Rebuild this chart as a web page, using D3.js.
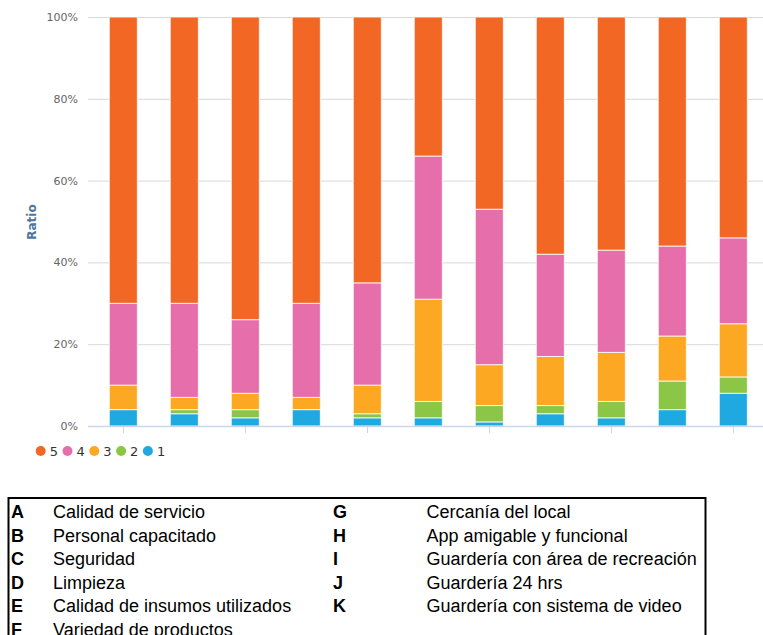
<!DOCTYPE html>
<html><head><meta charset="utf-8">
<script src="https://cdn.jsdelivr.net/npm/d3@7"></script>
<style>body{margin:0;background:#fff;} svg{display:block;}</style>
</head><body>
<svg id="chart" width="763" height="635"></svg>
<script>
const categories = ["A","B","C","D","E","F","G","H","I","J","K"];
const s1 = [4,3,2,4,2,2,1,3,2,4,8];
const s2 = [0,1,2,0,1,4,4,2,4,7,4];
const s3 = [6,3,4,3,7,25,10,12,12,11,13];
const s4 = [20,23,18,23,25,35,38,25,25,22,21];
const s5 = [70,70,74,70,65,34,47,58,57,56,54];
const seriesNames = ["1","2","3","4","5"];
const seriesColors = ["#1fa9e1","#8bc647","#fca823","#e66eab","#f26724"];
const yTicks = [0,20,40,60,80,100];
const legendOrder = ["5","4","3","2","1"];
const tableLeft = [["A","Calidad de servicio"],["B","Personal capacitado"],["C","Seguridad"],["D","Limpieza"],["E","Calidad de insumos utilizados"],["F","Variedad de productos"]];
const tableRight = [["G","Cercanía del local"],["H","App amigable y funcional"],["I","Guardería con área de recreación"],["J","Guardería 24 hrs"],["K","Guardería con sistema de video"]];

const svg = d3.select("#chart");
const x = d3.scaleBand().domain(categories).range([92.8, 763.8]).paddingInner(0.54).paddingOuter(0.27);
const y = d3.scaleLinear().domain([0,100]).range([426, 17]);

// gridlines
svg.append("g").selectAll("line").data(yTicks.filter(d=>d>0)).join("line")
  .attr("x1",88).attr("x2",763).attr("y1",d=>y(d)+0.5).attr("y2",d=>y(d)+0.5)
  .attr("stroke","#d8d8d8").attr("stroke-width",1);

// y labels
svg.append("g").selectAll("text").data(yTicks).join("text")
  .attr("x",78).attr("y",d=>y(d)+4).attr("text-anchor","end")
  .attr("font-family","DejaVu Sans, sans-serif").attr("font-size",11).attr("fill","#666")
  .text(d=>d+"%");

svg.append("text").attr("transform","translate(36,222) rotate(-90)")
  .attr("text-anchor","middle").attr("font-family","DejaVu Sans, sans-serif")
  .attr("font-size",12).attr("font-weight","bold").attr("fill","#4d759e").text("Ratio");

// stacked data
const rows = categories.map((c,i)=>({cat:c,"1":s1[i],"2":s2[i],"3":s3[i],"4":s4[i],"5":s5[i]}));
const stack = d3.stack().keys(seriesNames)(rows);
const color = d3.scaleOrdinal().domain(seriesNames).range(seriesColors);

svg.append("g").selectAll("g").data(stack).join("g")
  .attr("fill",d=>color(d.key))
  .selectAll("rect").data(d=>d.filter(p=>p[1]-p[0]>0)).join("rect")
  .attr("x",d=>x(d.data.cat)).attr("width",x.bandwidth())
  .attr("y",d=>y(d[1])).attr("height",d=>y(d[0])-y(d[1]))
  .attr("stroke","#fff").attr("stroke-opacity",0.8).attr("stroke-width",1);

// x axis baseline + ticks
svg.append("line").attr("x1",88).attr("x2",763).attr("y1",426.5).attr("y2",426.5)
  .attr("stroke","#ccd6eb").attr("stroke-width",1.5);
svg.append("g").selectAll("line").data(categories.filter((d,i)=>i%2===0)).join("line")
  .attr("x1",d=>Math.round(x(d)+x.bandwidth()/2)+0.5).attr("x2",d=>Math.round(x(d)+x.bandwidth()/2)+0.5)
  .attr("y1",427).attr("y2",433).attr("stroke","#ccd6eb").attr("stroke-width",1);

// legend
const lg = svg.append("g").selectAll("g").data(legendOrder).join("g")
  .attr("transform",(d,i)=>`translate(${40.7+i*26.8},451)`);
lg.append("circle").attr("r",5).attr("fill",d=>color(d));
lg.append("text").attr("x",9).attr("y",5).attr("font-family","DejaVu Sans, sans-serif")
  .attr("font-size",13).attr("fill","#333").text(d=>d);

// table box
svg.append("rect").attr("x",8.5).attr("y",498).attr("width",697).attr("height",160)
  .attr("fill","none").attr("stroke","#000").attr("stroke-width",2);
const tf = "Liberation Sans, Arial, sans-serif";
const fs = 18;
const rowY = i => 518 + i*23.6;
const tl = svg.append("g").selectAll("g").data(tableLeft).join("g");
tl.append("text").attr("x",11).attr("y",(d,i)=>rowY(i)).attr("font-family",tf).attr("font-size",fs)
  .attr("font-weight","bold").text(d=>d[0]);
tl.append("text").attr("x",53).attr("y",(d,i)=>rowY(i)).attr("font-family",tf).attr("font-size",fs).text(d=>d[1]);
const tr = svg.append("g").selectAll("g").data(tableRight).join("g");
tr.append("text").attr("x",333).attr("y",(d,i)=>rowY(i)).attr("font-family",tf).attr("font-size",fs)
  .attr("font-weight","bold").text(d=>d[0]);
tr.append("text").attr("x",426.5).attr("y",(d,i)=>rowY(i)).attr("font-family",tf).attr("font-size",fs).text(d=>d[1]);
</script>
</body></html>
